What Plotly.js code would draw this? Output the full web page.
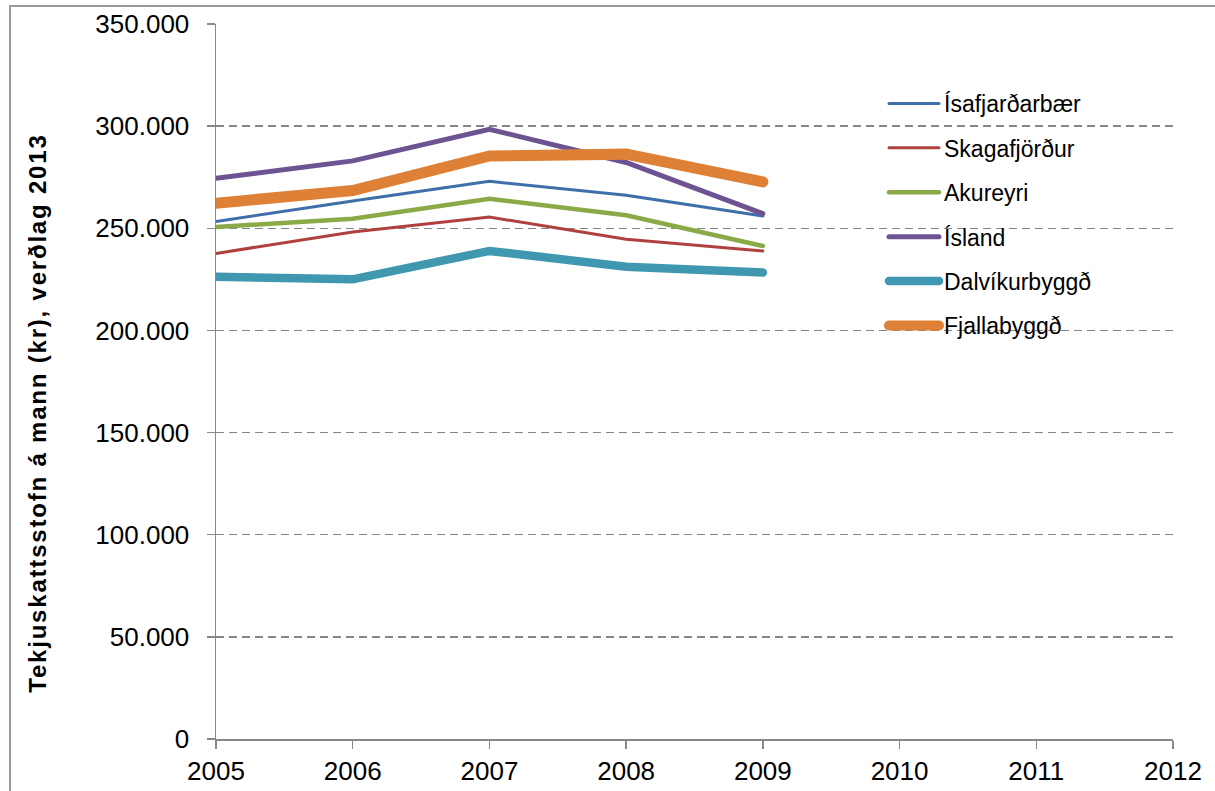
<!DOCTYPE html>
<html>
<head>
<meta charset="utf-8">
<script src="https://cdn.plot.ly/plotly-3.0.1.min.js"></script>
<style>
html,body{margin:0;padding:0;background:#fff;}
#chart{width:1215px;height:791px;}
</style>
</head>
<body>
<div id="chart"></div>
<script>
// ---- data ----
var years = [2005, 2006, 2007, 2008, 2009];
var xTicks = [2005, 2006, 2007, 2008, 2009, 2010, 2011, 2012];
var isafjardarbaer = [253300, 263400, 273000, 266200, 256000];
var skagafjordur   = [237700, 248200, 255500, 244600, 238900];
var akureyri       = [250600, 254700, 264500, 256400, 241300];
var island         = [274500, 283000, 298500, 282200, 257200];
var dalvikurbyggd  = [226300, 225000, 238900, 231200, 228300];
var fjallabyggd    = [262300, 268500, 285400, 286300, 272700];
var seriesNames = ["Ísafjarðarbær", "Skagafjörður", "Akureyri", "Ísland", "Dalvíkurbyggð", "Fjallabyggð"];
var yTitle = "Tekjuskattsstofn á mann (kr), verðlag 2013";

// ---- styles ----
var colors = ["#3F6FAA", "#B0403D", "#8AAA48", "#6D5392", "#3F98AF", "#DE8035"];
var widths = [3, 3, 4.5, 5, 8.5, 11];
var values = [isafjardarbaer, skagafjordur, akureyri, island, dalvikurbyggd, fjallabyggd];

var traces = values.map(function (v, i) {
  return {
    type: "scatter", mode: "lines",
    x: years, y: v, name: seriesNames[i],
    legendgroup: "g" + i,
    line: {color: colors[i], width: widths[i]}
  };
});

var L = 216, R = 42, T = 24, B = 52;
var W = 1215, H = 791;
var pw = W - L - R, ph = H - T - B;
function px(x) { return (x - L) / pw; }
function py(y) { return (H - B - y) / ph; }

var font = "Liberation Sans, Arial, sans-serif";

var layout = {
  width: W, height: H,
  margin: {l: L, r: R, t: T, b: B, pad: 0},
  paper_bgcolor: "#ffffff", plot_bgcolor: "#ffffff",
  separators: ",.",
  font: {family: font, color: "#000", size: 26},
  showlegend: true,
  legend: {
    x: px(884), y: py(82), xanchor: "left", yanchor: "top",
    font: {family: font, size: 23, color: "#000"},
    bgcolor: "rgba(0,0,0,0)",
    tracegroupgap: 11.5,
    itemwidth: 50
  },
  xaxis: {
    range: [2005, 2012],
    tickvals: xTicks, ticktext: xTicks.map(String),
    ticks: "outside", ticklen: 8, tickcolor: "#888", tickwidth: 1.5,
    showline: true, linecolor: "#888", linewidth: 1.5,
    showgrid: false, zeroline: false,
    tickfont: {family: font, size: 26, color: "#000"}
  },
  yaxis: {
    range: [0, 350000], dtick: 50000, tick0: 0,
    tickformat: ",d",
    ticks: "outside", ticklen: 8, tickcolor: "#888", tickwidth: 1.5,
    showline: true, linecolor: "#888", linewidth: 1.5,
    showgrid: true, gridcolor: "#868686", gridwidth: 1.5, griddash: "8px,5px",
    zeroline: false,
    tickfont: {family: font, size: 26, color: "#000"},
    ticklabelstandoff: 12
  },
  annotations: [{
    text: "<b>" + yTitle + "</b>",
    xref: "paper", yref: "paper",
    x: px(37), y: py(413), xanchor: "center", yanchor: "middle",
    textangle: -90, showarrow: false,
    font: {family: font, size: 24, color: "#000"}
  }],
  shapes: [{
    type: "rect", xref: "paper", yref: "paper",
    x0: px(10), x1: px(1225), y0: py(800), y1: py(6),
    line: {color: "#999", width: 2}, fillcolor: "rgba(0,0,0,0)", layer: "below"
  }]
};

Plotly.newPlot("chart", traces, layout, {displayModeBar: false, staticPlot: true}).then(function () {
  document.querySelectorAll(".scatterlayer path.js-line, .legend path.js-line").forEach(function (p) {
    p.style.strokeLinecap = "round";
  });
  document.querySelectorAll(".annotation-text").forEach(function (t) {
    t.style.letterSpacing = "1.8px";
  });
});
</script>
</body>
</html>
